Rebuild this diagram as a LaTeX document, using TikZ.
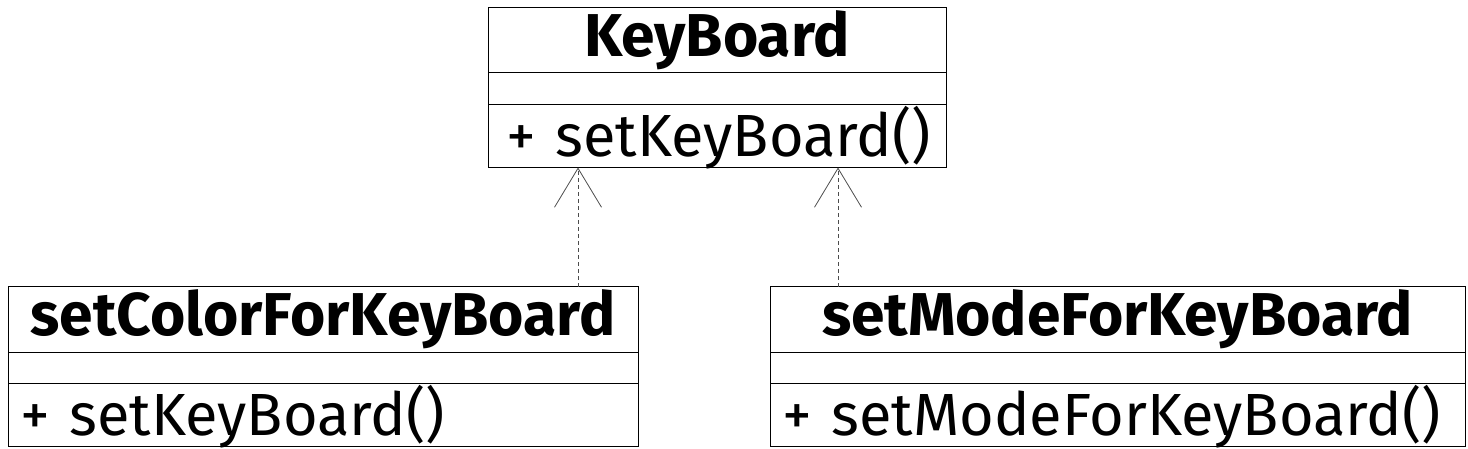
\documentclass[tikz,border=0pt]{standalone}
\usepackage{fontspec}
\setmainfont{Fira Sans}
\usetikzlibrary{positioning,arrows.meta,calc}

\begin{document}
\begin{tikzpicture}[x=1pt, y=-1pt,
    umltitle/.style={draw, line width=1pt, minimum width=#1, minimum height=65pt,
                     inner sep=0pt, outer sep=0pt, font=\fontsize{60.5}{62}\selectfont\bfseries},
    umlattr/.style={draw, line width=1pt, minimum width=#1, minimum height=31.5pt,
                    inner sep=0pt, outer sep=0pt},
    umlops/.style={draw, line width=1pt, text width=#1, inner xsep=12pt, inner ysep=0pt,
                   minimum height=63pt, outer sep=0pt, align=left, text depth=9pt,
                   font=\fontsize{59.5}{62}\selectfont},
    realize/.style={draw=black!70, line width=0.8pt, dash pattern=on 4pt off 3pt,
                    -{Straight Barb[length=39pt, width=47pt, line width=0.8pt]}}]
  \useasboundingbox (0,0) rectangle (1468,449);

  % interface
  \node[umltitle=458pt, anchor=north west] (kbTitle) at (488,8) {KeyBoard};
  \node[umlattr=458pt, below=0pt of kbTitle] (kbAttr) {};
  \node[umlops=434pt, below=0pt of kbAttr] (kbOps) {\hspace*{6pt}+ setKeyBoard()};

  % implementations
  \node[umltitle=630pt, anchor=north west] (colorTitle) at (8,287) {setColorForKeyBoard};
  \node[umlattr=630pt, below=0pt of colorTitle] (colorAttr) {};
  \node[umlops=606pt, below=0pt of colorAttr] (colorOps) {+ setKeyBoard()};

  \node[umltitle=695pt, anchor=north west] (modeTitle) at (770,287) {setModeForKeyBoard};
  \node[umlattr=695pt, below=0pt of modeTitle] (modeAttr) {};
  \node[umlops=671pt, below=0pt of modeAttr] (modeOps) {+ setModeForKeyBoard()};

  \draw[realize] ([xshift=570pt]colorTitle.north west)
     -- ([xshift=570pt]colorTitle.north west |- kbOps.south);
  \draw[realize] ([xshift=68pt]modeTitle.north west)
     -- ([xshift=68pt]modeTitle.north west |- kbOps.south);
\end{tikzpicture}
\end{document}
